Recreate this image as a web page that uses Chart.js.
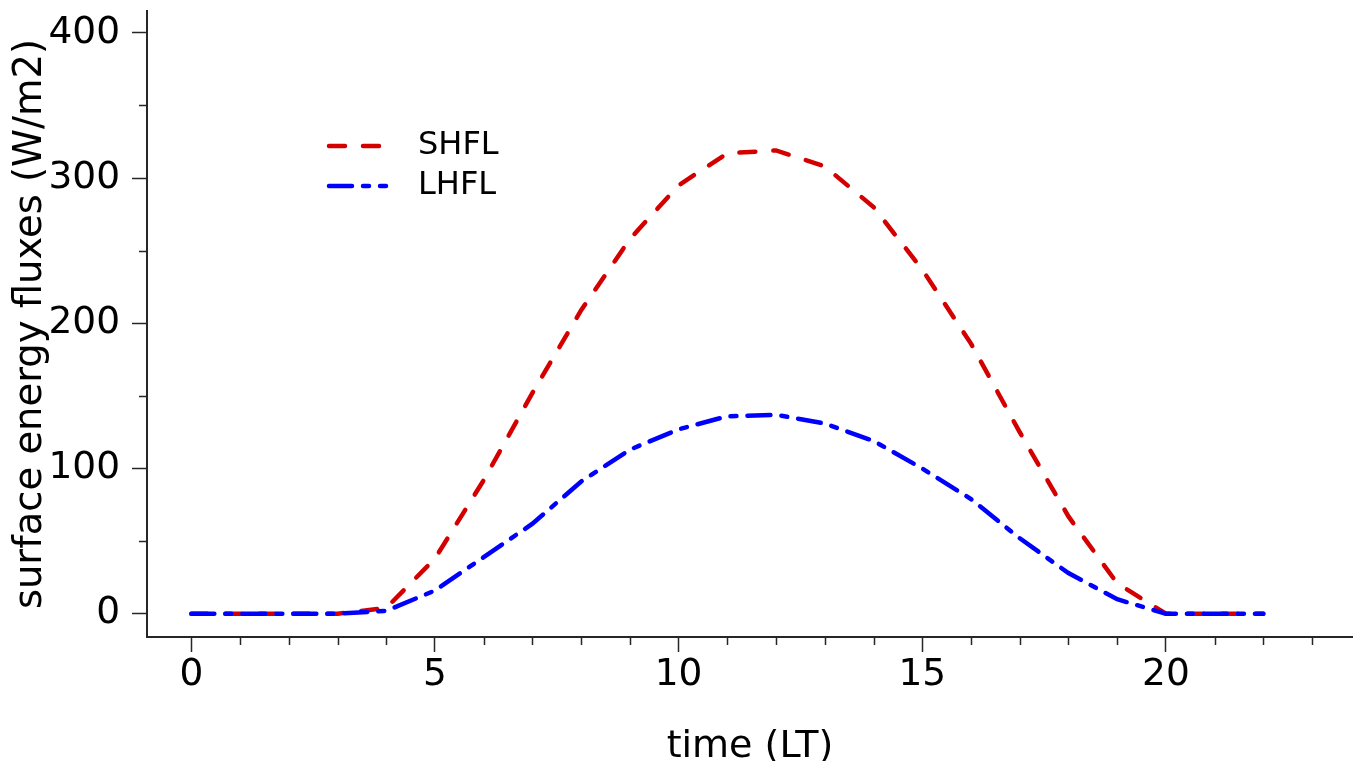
<!DOCTYPE html>
<html>
<head>
<meta charset="utf-8">
<script src="https://cdn.jsdelivr.net/npm/chart.js@4/dist/chart.umd.min.js"></script>
<style>
    html, body { margin: 0; padding: 0; background: #ffffff; }
    #wrap { width: 1353px; height: 761px; position: relative; }
</style>
</head>
<body>
<div id="wrap"><canvas id="fluxChart"></canvas></div>
<script>
// hours of the day (local time)
const hours = [0, 1, 2, 3, 4, 5, 6, 7, 8, 9, 10, 11, 12, 13, 14, 15, 16, 17, 18, 19, 20, 21, 22];
// sensible heat flux, W/m2
const shfl = [0, 0, 0, 0, 4, 38, 92, 152, 209, 258, 295, 317, 319, 308, 280, 237, 186, 125, 67, 21, 0, 0, 0];
// latent heat flux, W/m2
const lhfl = [0, 0, 0, 0, 2, 16, 39, 62, 91, 113, 127, 136, 137, 131, 119, 100, 79, 52, 28, 10, 0, 0, 0];

const xMajorTicks = [0, 5, 10, 15, 20];
const xMinorTicks = [1, 2, 3, 4, 6, 7, 8, 9, 11, 12, 13, 14, 16, 17, 18, 19, 21, 22, 23];
const yMajorTicks = [0, 100, 200, 300, 400];
const yMinorTicks = [50, 150, 250, 350];

const seriesNames = ['SHFL', 'LHFL'];
const seriesColors = ['#d40000', '#0000ff'];

const FONT = "'DejaVu Sans', 'Liberation Sans', sans-serif";
const AXIS_COLOR = '#262626';

//********************************************************************************
///Minor ticks + legend (drawn after the chart)
//********************************************************************************
const extrasPlugin = {
    id: 'extras',
    afterDraw(chart) {
        const ctx = chart.ctx;
        const xs = chart.scales.x;
        const ys = chart.scales.y;
        const area = chart.chartArea;

        ctx.save();
        ctx.strokeStyle = AXIS_COLOR;
        ctx.lineWidth = 1.5;
        ctx.beginPath();
        xMinorTicks.forEach(v => {
            const px = Math.round(xs.getPixelForValue(v)) + 0.5;
            ctx.moveTo(px, area.bottom);
            ctx.lineTo(px, area.bottom + 8);
        });
        yMinorTicks.forEach(v => {
            const py = Math.round(ys.getPixelForValue(v)) + 0.5;
            ctx.moveTo(area.left, py);
            ctx.lineTo(area.left - 8, py);
        });
        ctx.stroke();

        // legend
        const rows = [146, 186];
        chart.data.datasets.forEach((ds, i) => {
            const y = rows[i];
            ctx.strokeStyle = ds.borderColor;
            ctx.lineWidth = ds.borderWidth;
            ctx.lineCap = 'round';
            ctx.setLineDash(ds.borderDash);
            ctx.beginPath();
            ctx.moveTo(329, y);
            ctx.lineTo(386, y);
            ctx.stroke();
            ctx.setLineDash([]);
            ctx.fillStyle = '#000000';
            ctx.font = '32px ' + FONT;
            ctx.textAlign = 'left';
            ctx.textBaseline = 'middle';
            ctx.fillText(ds.label, 418, y);
        });
        ctx.restore();
    }
};

//********************************************************************************
///Chart
//********************************************************************************
const chart = new Chart(document.getElementById('fluxChart'), {
    type: 'line',
    data: {
        labels: hours,
        datasets: [
            {
                label: seriesNames[0],
                data: hours.map((h, i) => ({ x: h, y: shfl[i] })),
                borderColor: seriesColors[0],
                borderWidth: 4.5,
                borderDash: [16, 18],
                borderCapStyle: 'round',
                pointRadius: 0,
                tension: 0,
                fill: false,
                order: 1
            },
            {
                label: seriesNames[1],
                data: hours.map((h, i) => ({ x: h, y: lhfl[i] })),
                borderColor: seriesColors[1],
                borderWidth: 4.5,
                borderDash: [23, 11, 6, 11],
                borderCapStyle: 'round',
                pointRadius: 0,
                tension: 0,
                fill: false,
                order: 0
            }
        ]
    },
    options: {
        responsive: true,
        maintainAspectRatio: false,
        animation: false,
        layout: { padding: { top: 11, right: 0, left: 0, bottom: 0 } },
        plugins: {
            legend: { display: false },
            tooltip: { enabled: false }
        },
        scales: {
            x: {
                type: 'linear',
                min: -0.91,
                max: 23.84,
                afterBuildTicks: axis => { axis.ticks = xMajorTicks.map(v => ({ value: v })); },
                afterFit: scale => {
                    scale.height = 124;
                    scale.paddingLeft = 0;
                    scale.paddingRight = 0;
                },
                border: { display: true, color: AXIS_COLOR, width: 2 },
                grid: { drawOnChartArea: false, drawTicks: true, tickLength: 15, tickColor: AXIS_COLOR, tickWidth: 1.5 },
                ticks: {
                    color: '#000000',
                    font: { family: FONT, size: 37.5 },
                    padding: 1,
                    maxRotation: 0,
                    autoSkip: false
                },
                title: {
                    display: true,
                    text: 'time (LT)',
                    color: '#000000',
                    font: { family: FONT, size: 38, lineHeight: 1 },
                    padding: { top: 0, bottom: -5 }
                }
            },
            y: {
                type: 'linear',
                min: -16,
                max: 415,
                afterBuildTicks: axis => { axis.ticks = yMajorTicks.map(v => ({ value: v })); },
                afterFit: scale => {
                    scale.width = 147;
                    scale.paddingTop = 0;
                    scale.paddingBottom = 0;
                },
                border: { display: true, color: AXIS_COLOR, width: 2 },
                grid: { drawOnChartArea: false, drawTicks: true, tickLength: 15, tickColor: AXIS_COLOR, tickWidth: 1.5 },
                ticks: {
                    color: '#000000',
                    font: { family: FONT, size: 37.5 },
                    padding: 12,
                    autoSkip: false
                },
                title: {
                    display: true,
                    text: 'surface energy fluxes (W/m2)',
                    color: '#000000',
                    font: { family: FONT, size: 38.5, lineHeight: 1 },
                    padding: { top: 12, bottom: 0 }
                }
            }
        }
    },
    plugins: [extrasPlugin]
});
</script>
</body>
</html>
